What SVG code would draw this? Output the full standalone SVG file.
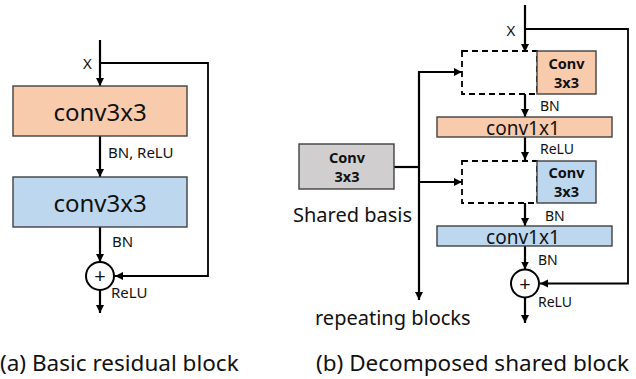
<svg xmlns="http://www.w3.org/2000/svg" width="636" height="379" viewBox="0 0 636 379">
<defs>
<marker id="ah" markerUnits="userSpaceOnUse" markerWidth="10" markerHeight="10" refX="8" refY="4" orient="auto"><path d="M0,0 L8,4 L0,8 z" fill="#000"/></marker>
<style>
text{font-family:"Noto Sans","Open Sans","DejaVu Sans",sans-serif;fill:#111}
.ln{fill:none;stroke:#000;stroke-width:2.2}
.sk{fill:none;stroke:#000;stroke-width:1.8}
.box{stroke:#404040;stroke-width:1.4}
.org{fill:#f8cbad}
.blu{fill:#bdd7ee}
.gry{fill:#d0cece}
.dash{fill:none;stroke:#000;stroke-width:1.8;stroke-dasharray:6,4}
.big{font-size:24px;text-anchor:middle}
.mid{font-size:19px;text-anchor:middle}
.lab{font-size:15px}
.sm{font-size:14px}
.bold{font-size:14.5px;font-weight:bold;text-anchor:middle}
.cap{font-size:22.5px}
.txt{font-size:20px}
</style>
</defs>
<g id="connectors">
<path class="ln" d="M100,40 V86" marker-end="url(#ah)"/>
<path class="sk" d="M100,63 H208 V276 H115" marker-end="url(#ah)"/>
<path class="ln" d="M100,136 V177" marker-end="url(#ah)"/>
<path class="ln" d="M100,227 V262" marker-end="url(#ah)"/>
<path class="ln" d="M100,290 V313" marker-end="url(#ah)"/>
<path class="ln" d="M525,5 V52" marker-end="url(#ah)"/>
<path class="sk" d="M525,29 H628 V283.5 H540" marker-end="url(#ah)"/>
<path class="ln" d="M394,167 H419"/>
<path class="ln" d="M419,71 V300" marker-end="url(#ah)"/>
<path class="ln" d="M418,72 H462" marker-end="url(#ah)"/>
<path class="ln" d="M419,182 H462" marker-end="url(#ah)"/>
<path class="ln" d="M525,94 V117" marker-end="url(#ah)"/>
<path class="ln" d="M525,137 V160" marker-end="url(#ah)"/>
<path class="ln" d="M525,203 V226" marker-end="url(#ah)"/>
<path class="ln" d="M525,246 V269.5" marker-end="url(#ah)"/>
<path class="ln" d="M525,297.5 V323" marker-end="url(#ah)"/>
</g>
<g id="left-x"><text class="lab" x="87.5" y="69" text-anchor="middle">X</text></g>
<g id="left-conv1">
<rect class="box org" x="13" y="86" width="174" height="50"/>
<text class="big" x="100" y="121">conv3x3</text>
</g>
<g id="left-lab1"><text class="lab" x="108" y="158">BN, ReLU</text></g>
<g id="left-conv2">
<rect class="box blu" x="13" y="177" width="174" height="50"/>
<text class="big" x="100" y="212">conv3x3</text>
</g>
<g id="left-lab2"><text class="lab" x="112" y="247">BN</text></g>
<g id="left-add">
<circle cx="100" cy="276" r="14" fill="#fff" stroke="#000" stroke-width="2"/>
<text x="100" y="283" font-size="20" text-anchor="middle">+</text>
</g>
<g id="left-lab3"><text class="lab" x="111" y="298">ReLU</text></g>
<g id="right-x"><text class="lab" x="511" y="36" text-anchor="middle">X</text></g>
<g id="shared-basis">
<rect class="box gry" x="299" y="144" width="95" height="45"/>
<text class="bold" x="347" y="163">Conv</text>
<text class="bold" x="347" y="182">3x3</text>
<text class="txt" x="293" y="222">Shared basis</text>
</g>
<g id="block1">
<rect class="dash" x="462" y="51" width="75" height="43"/>
<rect class="box org" x="537" y="51" width="59" height="43"/>
<text class="bold" x="566.5" y="69">Conv</text>
<text class="bold" x="566.5" y="88">3x3</text>
</g>
<g id="right-lab1"><text class="sm" x="540" y="111">BN</text></g>
<g id="conv1x1-a">
<rect class="box org" x="437" y="117" width="175" height="20"/>
<text class="mid" x="523" y="134.5">conv1x1</text>
</g>
<g id="right-lab2"><text class="sm" x="540" y="154" font-size="13.5">ReLU</text></g>
<g id="block2">
<rect class="dash" x="462" y="161" width="75" height="42"/>
<rect class="box blu" x="537" y="161" width="59" height="42"/>
<text class="bold" x="566.5" y="178">Conv</text>
<text class="bold" x="566.5" y="197">3x3</text>
</g>
<g id="right-lab3"><text class="sm" x="545" y="221">BN</text></g>
<g id="conv1x1-b">
<rect class="box blu" x="437" y="226" width="175" height="20"/>
<text class="mid" x="523" y="243.5">conv1x1</text>
</g>
<g id="right-lab4"><text class="sm" x="538" y="265">BN</text></g>
<g id="right-add">
<circle cx="525" cy="283.5" r="14" fill="#fff" stroke="#000" stroke-width="2"/>
<text x="525" y="290.5" font-size="20" text-anchor="middle">+</text>
</g>
<g id="right-lab5"><text class="sm" x="538" y="307">ReLU</text></g>
<g id="repeat"><text class="txt" x="315" y="325">repeating blocks</text></g>
<g id="captions">
<text class="cap" x="0" y="371">(a) Basic residual block</text>
<text class="cap" x="316" y="371">(b) Decomposed shared block</text>
</g>
</svg>
